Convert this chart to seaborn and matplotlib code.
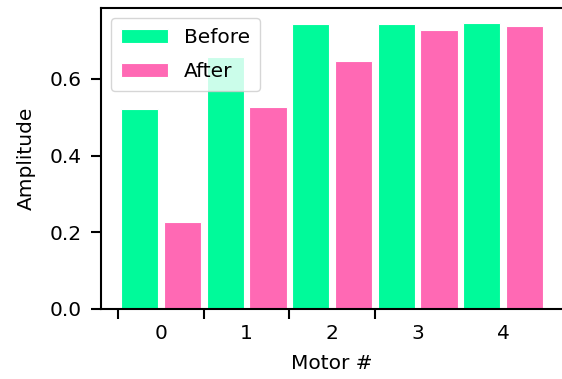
import matplotlib
matplotlib.use("Agg")
import matplotlib.pyplot as plt
import numpy as np
import pandas as pd
import seaborn as sns

# Vibration amplitude per motor, before and after balancing
motors = [0, 1, 2, 3, 4]
before = [0.522, 0.657, 0.743, 0.743, 0.747]
after = [0.226, 0.526, 0.646, 0.728, 0.737]
phases = ["Before", "After"]
colors = {"Before": "#00FA9A", "After": "#FF69B4"}

df = pd.DataFrame({
    "Motor #": motors * 2,
    "Amplitude": before + after,
    "phase": ["Before"] * len(motors) + ["After"] * len(motors),
})

sns.set_style("ticks")
plt.rcParams.update({
    "font.family": ["DejaVu Sans"],
    "font.size": 14.5,
    "text.color": "black",
    "axes.labelcolor": "black",
    "xtick.color": "black",
    "ytick.color": "black",
})

FS = 14.5

fig = plt.figure(figsize=(5.62, 3.79), dpi=100)
ax = fig.add_axes([0.18, 0.1847, 0.822, 0.7943])

sns.barplot(data=df, x="Motor #", y="Amplitude", hue="phase",
            hue_order=phases, palette=colors, saturation=1,
            width=1.0, gap=0.13, edgecolor="white", linewidth=0.8,
            ax=ax, errorbar=None)

ax.set_xlim(-0.7, 4.7)
ax.set_ylim(0, 0.785)
ax.set_yticks([0.0, 0.2, 0.4, 0.6])
ax.set_yticklabels(["0.0", "0.2", "0.4", "0.6"], fontsize=FS)

# group separators as major ticks, motor numbers as unticked minor labels
ax.set_xticks([m - 0.5 for m in motors[:-1]])
ax.set_xticklabels([])
ax.set_xticks(motors, minor=True)
ax.set_xticklabels([str(m) for m in motors], minor=True, fontsize=FS)
ax.tick_params(axis="x", which="minor", length=0, pad=11)
ax.tick_params(axis="both", which="major", length=7, width=1.5, color="black")
ax.tick_params(axis="y", which="major", pad=7)

for side in ["left", "bottom", "top", "right"]:
    ax.spines[side].set_visible(True)
    ax.spines[side].set_linewidth(1.5)
    ax.spines[side].set_color("black")

ax.set_xlabel("Motor #", fontsize=FS, labelpad=8)
ax.set_ylabel("Amplitude", fontsize=FS, labelpad=10)

leg = ax.legend(loc="upper left", fontsize=FS, framealpha=0.8,
                handlelength=2.3, borderaxespad=0.5, labelspacing=0.75,
                borderpad=0.5)
leg.set_title(None)

fig.savefig("out.png", dpi=100)
